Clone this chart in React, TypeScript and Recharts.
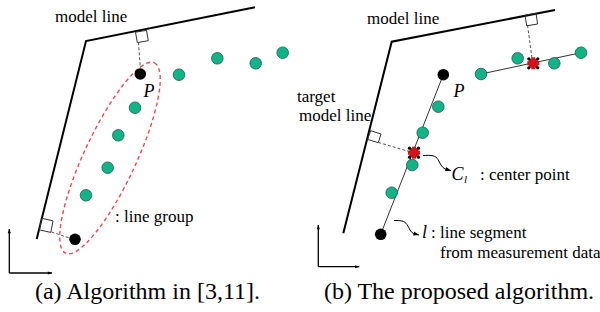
import { ComposedChart, Line, Scatter, XAxis, YAxis } from 'recharts';

// diagram units = pixels of the 600x312 figure (y grows downwards)
const modelLineA = [{ x: 36.7, y: 239 }, { x: 86, y: 41 }, { x: 255, y: 7.3 }];
const modelLineB = [{ x: 343.3, y: 233.3 }, { x: 391.7, y: 41.7 }, { x: 555, y: 10 }];

const greenA = [
    { x: 179, y: 74.7 }, { x: 217.3, y: 58.3 }, { x: 255.7, y: 63.3 }, { x: 282.7, y: 52.7 },
    { x: 135, y: 107.7 }, { x: 118.3, y: 135.3 }, { x: 107.7, y: 167.7 }, { x: 86, y: 195.3 },
];
const blackA = [{ x: 140.3, y: 74 }, { x: 75, y: 239.3 }];

const greenB = [
    { x: 481, y: 74 }, { x: 517.7, y: 58.3 }, { x: 554.3, y: 63.3 }, { x: 581, y: 52.7 },
    { x: 438.3, y: 106.7 }, { x: 422.7, y: 132.7 }, { x: 412.3, y: 165 }, { x: 391.7, y: 192.7 },
];
const blackB = [{ x: 443.3, y: 74.7 }, { x: 380.7, y: 234.3 }];
const centerPoints = [{ x: 533.3, y: 63.3 }, { x: 414, y: 152.7 }];

const segmentUpper = [{ x: 481, y: 74 }, { x: 581, y: 52.7 }];
const segmentLower = [{ x: 443.3, y: 74.7 }, { x: 380.7, y: 234.3 }];

const dashedLines = [
    [{ x: 138.5, y: 42.3 }, { x: 140.3, y: 68 }],
    [{ x: 51.5, y: 232 }, { x: 69.5, y: 238 }],
    [{ x: 527.5, y: 25.3 }, { x: 532, y: 58 }],
    [{ x: 378.3, y: 142.4 }, { x: 409, y: 151.5 }],
];

const rightAngles = [
    [{ x: 135.5, y: 32.2 }, { x: 146.5, y: 30.3 }, { x: 148.3, y: 40.7 }, { x: 137.3, y: 42.6 }, { x: 135.5, y: 32.2 }],
    [{ x: 41.7, y: 218.3 }, { x: 53, y: 220.8 }, { x: 50.8, y: 232.4 }, { x: 39.4, y: 229.9 }, { x: 41.7, y: 218.3 }],
    [{ x: 525, y: 15.2 }, { x: 536, y: 13.3 }, { x: 537.6, y: 24 }, { x: 526.7, y: 25.8 }, { x: 525, y: 15.2 }],
    [{ x: 370.7, y: 130.7 }, { x: 381, y: 134 }, { x: 378.3, y: 142.7 }, { x: 367.6, y: 139.4 }, { x: 370.7, y: 130.7 }],
];

const lineGroup = [{ x: 110, y: 158 }];

const arrowCenter = [
    { x: 423, y: 155.5 }, { x: 433, y: 155.8 }, { x: 438, y: 159.5 }, { x: 441, y: 165 }, { x: 445, y: 169 }, { x: 451, y: 170.5 },
];
const arrowSegment = [
    { x: 394, y: 220.5 }, { x: 402, y: 221 }, { x: 407, y: 224.5 }, { x: 410, y: 230 }, { x: 413.5, y: 233.5 }, { x: 419, y: 235 },
];
const axisArrows = [
    [{ x: 9.3, y: 273 }, { x: 9.3, y: 229 }],
    [{ x: 9.3, y: 273 }, { x: 52, y: 273 }],
    [{ x: 318.3, y: 266.7 }, { x: 318.3, y: 225 }],
    [{ x: 318.3, y: 266.7 }, { x: 359.3, y: 266.7 }],
];

const plainLabels = [
    { x: 55, y: 22, text: 'model line' },
    { x: 115, y: 222, text: ': line group' },
    { x: 367, y: 23.5, text: 'model line' },
    { x: 297, y: 102, text: 'target' },
    { x: 299, y: 121, text: 'model line' },
    { x: 480, y: 180, text: ': center point' },
    { x: 431, y: 238, text: ': line segment' },
    { x: 440, y: 257.5, text: 'from measurement data' },
];
const italicLabels = [
    { x: 143.5, y: 96.5, text: 'P' },
    { x: 453.5, y: 96.5, text: 'P' },
    { x: 451.5, y: 180, text: 'C' },
    { x: 422, y: 238, text: 'l' },
];
const subLabels = [{ x: 464, y: 182.5, text: 'l' }];
const captions = [
    { x: 147.5, y: 299, text: '(a) Algorithm in [3,11].' },
    { x: 459, y: 299, text: '(b) The proposed algorithm.' },
];

const FONT = '"Liberation Serif", "Times New Roman", serif';
const GREEN = '#10b487';

function arrowDot(data: { x: number; y: number }[], size: number) {
    return (props: any) => {
        const { cx, cy, index } = props;
        if (index !== data.length - 1) return <g key={`d-${index}`} />;
        const prev = data[data.length - 2];
        const last = data[data.length - 1];
        const ang = (Math.atan2(last.y - prev.y, last.x - prev.x) * 180) / Math.PI;
        return (
            <polygon
                key={`d-${index}`}
                points={`0,0 ${-size * 1.6},${-size * 0.6} ${-size * 1.6},${size * 0.6}`}
                transform={`translate(${cx},${cy}) rotate(${ang})`}
                fill="#000"
            />
        );
    };
}

function textShape(size: number, style: string, anchor: string) {
    return (props: any) => (
        <text
            x={props.cx}
            y={props.cy}
            fontFamily={FONT}
            fontSize={size}
            fontStyle={style}
            textAnchor={anchor}
            fill="#000"
        >
            {props.payload.text}
        </text>
    );
}

export default function App() {
    return (
        <div style={{ position: 'absolute', left: 0, top: 0, background: '#fff' }}>
            <ComposedChart width={600} height={312} margin={{ top: 0, right: 0, bottom: 0, left: 0 }}>
                <XAxis type="number" dataKey="x" domain={[0, 600]} hide allowDataOverflow />
                <YAxis type="number" dataKey="y" domain={[0, 312]} reversed hide allowDataOverflow />

                {/* line group ellipse */}
                <Scatter
                    data={lineGroup}
                    isAnimationActive={false}
                    shape={(p: any) => (
                        <ellipse
                            cx={p.cx}
                            cy={p.cy}
                            rx={105}
                            ry={26}
                            transform={`rotate(-65 ${p.cx} ${p.cy})`}
                            fill="none"
                            stroke="#ea4b53"
                            strokeWidth={1.4}
                            strokeDasharray="4 3"
                        />
                    )}
                />

                <Line data={modelLineA} dataKey="y" type="linear" stroke="#000" strokeWidth={2} dot={false} activeDot={false} isAnimationActive={false} />
                <Line data={modelLineB} dataKey="y" type="linear" stroke="#000" strokeWidth={2} dot={false} activeDot={false} isAnimationActive={false} />

                {dashedLines.map((d, i) => (
                    <Line key={`dash-${i}`} data={d} dataKey="y" type="linear" stroke="#555" strokeWidth={1} strokeDasharray="3 2" dot={false} activeDot={false} isAnimationActive={false} />
                ))}
                {rightAngles.map((d, i) => (
                    <Line key={`sq-${i}`} data={d} dataKey="y" type="linear" stroke="#333" strokeWidth={1} dot={false} activeDot={false} isAnimationActive={false} />
                ))}

                <Line data={segmentUpper} dataKey="y" type="linear" stroke="#333" strokeWidth={1} dot={false} activeDot={false} isAnimationActive={false} />
                <Line data={segmentLower} dataKey="y" type="linear" stroke="#333" strokeWidth={1} dot={false} activeDot={false} isAnimationActive={false} />

                <Line data={arrowCenter} dataKey="y" type="natural" stroke="#000" strokeWidth={1} dot={arrowDot(arrowCenter, 3.5)} activeDot={false} isAnimationActive={false} />
                <Line data={arrowSegment} dataKey="y" type="natural" stroke="#000" strokeWidth={1} dot={arrowDot(arrowSegment, 3.5)} activeDot={false} isAnimationActive={false} />
                {axisArrows.map((d, i) => (
                    <Line key={`ax-${i}`} data={d} dataKey="y" type="linear" stroke="#000" strokeWidth={1.3} dot={arrowDot(d, 2.6)} activeDot={false} isAnimationActive={false} />
                ))}

                <Scatter
                    data={[...greenA, ...greenB]}
                    isAnimationActive={false}
                    shape={(p: any) => <circle cx={p.cx} cy={p.cy} r={5.8} fill={GREEN} stroke="#23574a" strokeWidth={0.8} />}
                />
                <Scatter
                    data={[...blackA, ...blackB]}
                    isAnimationActive={false}
                    shape={(p: any) => <circle cx={p.cx} cy={p.cy} r={5.8} fill="#000" />}
                />
                <Scatter
                    data={centerPoints}
                    isAnimationActive={false}
                    shape={(p: any) => (
                        <g>
                            <rect x={p.cx - 4.5} y={p.cy - 4.5} width={9} height={9} fill="#d0121b" />
                            <rect x={p.cx - 2} y={p.cy - 6} width={4} height={12} fill="#d0121b" />
                            <rect x={p.cx - 6} y={p.cy - 2} width={12} height={4} fill="#d0121b" />
                            {[[-4.5, -4.5], [4.5, -4.5], [4.5, 4.5], [-4.5, 4.5]].map(([dx, dy], i) => (
                                <circle key={i} cx={p.cx + dx} cy={p.cy + dy} r={1.6} fill="#000" />
                            ))}
                        </g>
                    )}
                />

                <Scatter data={plainLabels} isAnimationActive={false} shape={textShape(17, 'normal', 'start')} />
                <Scatter data={italicLabels} isAnimationActive={false} shape={textShape(18, 'italic', 'start')} />
                <Scatter data={subLabels} isAnimationActive={false} shape={textShape(11, 'italic', 'start')} />
                <Scatter data={captions} isAnimationActive={false} shape={textShape(24, 'normal', 'middle')} />
            </ComposedChart>
        </div>
    );
}
